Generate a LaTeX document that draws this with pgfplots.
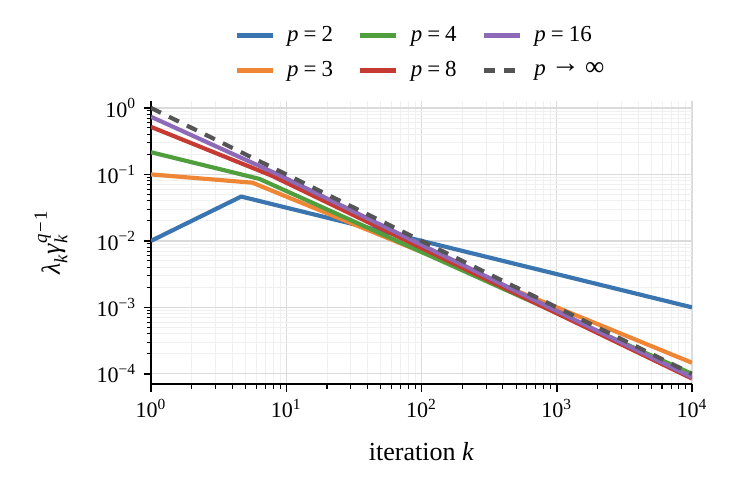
\documentclass[border=0pt]{standalone}
\usepackage{fontspec}
\setmainfont{Liberation Serif}
\usepackage{pgfplots}
\pgfplotsset{compat=1.18}
\definecolor{cblue}{RGB}{59,117,175}
\definecolor{corange}{RGB}{239,134,54}
\definecolor{cgreen}{RGB}{81,158,62}
\definecolor{cred}{RGB}{197,58,50}
\definecolor{cpurple}{RGB}{141,105,184}
\definecolor{cgray}{RGB}{85,85,85}
\newcommand{\tl}[1]{10\textsuperscript{#1}}
\newcommand{\peq}[1]{\textit{p}\hspace{0.22em}=\hspace{0.22em}#1}
\newcommand{\sscript}[1]{{\fontsize{9}{9}\selectfont #1}}
\begin{document}
\begin{tikzpicture}
\begin{axis}[
  at={(0,0)}, anchor=south west,
  scale only axis, width=259.7pt, height=135.8pt,
  xmode=log, ymode=log,
  xmin=1, xmax=10000, ymin=7e-5, ymax=1.26,
  axis x line*=bottom, axis y line*=left,
  x axis line style={-, line width=0.9pt},
  y axis line style={-, line width=0.9pt},
  tick align=outside,
  major tick length=3.6pt, minor tick length=2.1pt,
  every tick/.style={black, line width=0.7pt},
  minor tick style={line width=0.5pt},
  grid=both,
  major grid style={line width=0.6pt, draw=black!14},
  minor grid style={line width=0.4pt, draw=black!6},
  ticklabel style={font=\fontsize{10.6}{12}\selectfont},
  xtick={1,10,100,1000,10000},
  xticklabels={\tl{0},\tl{1},\tl{2},\tl{3},\tl{4}},
  ytick={1e-4,1e-3,1e-2,1e-1,1},
  yticklabels={\tl{−4},\tl{−3},\tl{−2},\tl{−1},\tl{0}},
  xlabel={iteration \textit{k}},
  ylabel={\textit{λ}\raisebox{-0.28em}{\sscript{\textit{k}}}\textit{γ}\rlap{\raisebox{-0.28em}{\sscript{\textit{k}}}}\raisebox{0.5em}{\sscript{\textit{q}\hspace{0.1em}−\hspace{0.1em}1}}},
  label style={font=\fontsize{12.5}{14}\selectfont},
  xlabel style={at={(axis description cs:0.5,-0.24)}, anchor=center},
  ylabel style={at={(axis description cs:-0.185,0.5)}, anchor=center},
  legend columns=3,
  legend cell align=left,
  legend style={draw=none, fill=none, at={(0.5,1.06)}, anchor=south, inner sep=0pt,
    font=\fontsize{11}{13}\selectfont, row sep=4pt,
    /tikz/every even column/.append style={column sep=10pt},
    /tikz/every odd column/.append style={column sep=4pt}},
  legend image code/.code={\draw[#1] (0pt,0pt) -- (17.3pt,0pt);},
  every axis plot/.append style={line width=2pt, line join=round},
]
\addplot[cblue, forget plot] coordinates {(1,0.01) (4.6416,0.046416) (10000,0.001)};
\addplot[corange, forget plot] coordinates {(1,0.1) (5.6234,0.074989) (10000,1.4678e-4)};
\addplot[cgreen, forget plot] coordinates {(1,0.21544) (6.3096,0.085770) (10000,1.0e-4)};
\addplot[cred, forget plot] coordinates {(1,0.51795) (7.7426,0.096411) (10000,8.4834e-5)};
\addplot[cpurple, forget plot] coordinates {(1,0.73564) (8.7333,0.099101) (10000,8.9125e-5)};
\addplot[cgray, dash pattern=on 5.3pt off 4.3pt, forget plot] coordinates {(1,1) (10000,1e-4)};
\addlegendimage{cblue, line width=2pt}
\addlegendentry{\peq{2}}
\addlegendimage{cgreen, line width=2pt}
\addlegendentry{\peq{4}}
\addlegendimage{cpurple, line width=2pt}
\addlegendentry{\peq{16}}
\addlegendimage{corange, line width=2pt}
\addlegendentry{\peq{3}}
\addlegendimage{cred, line width=2pt}
\addlegendentry{\peq{8}}
\addlegendimage{cgray, line width=2pt, dash pattern=on 5.3pt off 4.3pt}
\addlegendentry{\textit{p}\hspace{0.22em}\raisebox{0.12em}{\fontsize{14}{14}\selectfont →}\hspace{0.22em}{\fontsize{13}{13}\selectfont ∞}}
\end{axis}
\path (-72.5pt,-47pt) rectangle (288.5pt,184.4pt);
\end{tikzpicture}
\end{document}
